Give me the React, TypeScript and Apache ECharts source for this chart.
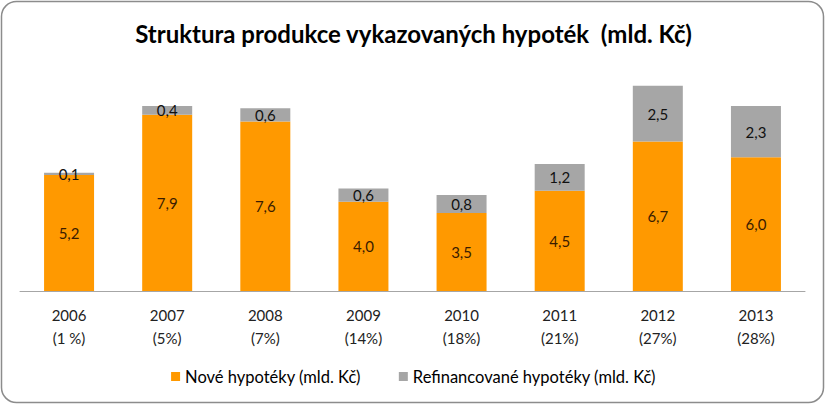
import React, { useEffect, useRef } from "react";
import * as echarts from "echarts";

const years = ["2006", "2007", "2008", "2009", "2010", "2011", "2012", "2013"];
const shares = ["(1 %)", "(5%)", "(7%)", "(14%)", "(18%)", "(21%)", "(27%)", "(28%)"];
const newLoans = [5.2, 7.9, 7.6, 4.0, 3.5, 4.5, 6.7, 6.0];
const refinanced = [0.1, 0.4, 0.6, 0.6, 0.8, 1.2, 2.5, 2.3];
const seriesNames = ["Nové hypotéky (mld. Kč)", "Refinancované hypotéky (mld. Kč)"];
const titleText = "Struktura produkce vykazovaných hypoték  (mld. Kč)";

const FONT = "Lato";

export default function App() {
  const ref = useRef<HTMLDivElement>(null);
  useEffect(() => {
    document.body.style.margin = "0";
    const chart = echarts.init(ref.current!, null, { renderer: "svg" });
    const fmt = (p: any) => String(Number(p.value).toFixed(1)).replace(".", ",");
    chart.setOption({
      animation: false,
      textStyle: { fontFamily: FONT },
      title: {
        text: titleText,
        left: "center",
        top: 16,
        textStyle: { fontFamily: FONT, fontSize: 24, fontWeight: "bold", color: "#000" },
      },
      graphic: [
        {
          type: "rect",
          shape: { x: 1.5, y: 1.5, width: 822, height: 401, r: 15 },
          style: { fill: "none", stroke: "#8c8c8c", lineWidth: 1.5 },
          silent: true,
        },
      ],
      legend: {
        bottom: 15,
        left: "center",
        itemWidth: 9,
        itemHeight: 9,
        itemGap: 38,
        icon: "rect",
        textStyle: { fontFamily: FONT, fontSize: 16.5, color: "#000" },
        data: seriesNames,
      },
      grid: { left: 20, right: 22, top: 68, bottom: 114, containLabel: false },
      xAxis: {
        type: "category",
        data: years.map((y, i) => y + "\n" + shares[i]),
        axisTick: { show: false },
        axisLine: { lineStyle: { color: "#a6a6a6", width: 1 } },
        axisLabel: {
          fontFamily: FONT,
          fontSize: 15,
          color: "#222",
          lineHeight: 23,
          margin: 12,
          interval: 0,
        },
      },
      yAxis: {
        type: "value",
        min: 0,
        max: 10,
        show: false,
        splitLine: { show: false },
      },
      series: [
        {
          name: seriesNames[0],
          type: "bar",
          stack: "total",
          data: newLoans,
          barWidth: 50,
          itemStyle: { color: "#ff9900" },
          label: {
            show: true,
            position: "inside",
            formatter: fmt,
            fontFamily: FONT,
            fontSize: 15,
            color: "#3a1c00",
          },
        },
        {
          name: seriesNames[1],
          type: "bar",
          stack: "total",
          data: refinanced,
          barWidth: 50,
          itemStyle: { color: "#a6a6a6" },
          label: {
            show: true,
            position: "inside",
            formatter: fmt,
            fontFamily: FONT,
            fontSize: 15,
            color: "#111",
          },
        },
      ],
    });
    return () => chart.dispose();
  }, []);
  return <div ref={ref} style={{ width: 827, height: 405, position: "absolute", left: 0, top: 0 }} />;
}
